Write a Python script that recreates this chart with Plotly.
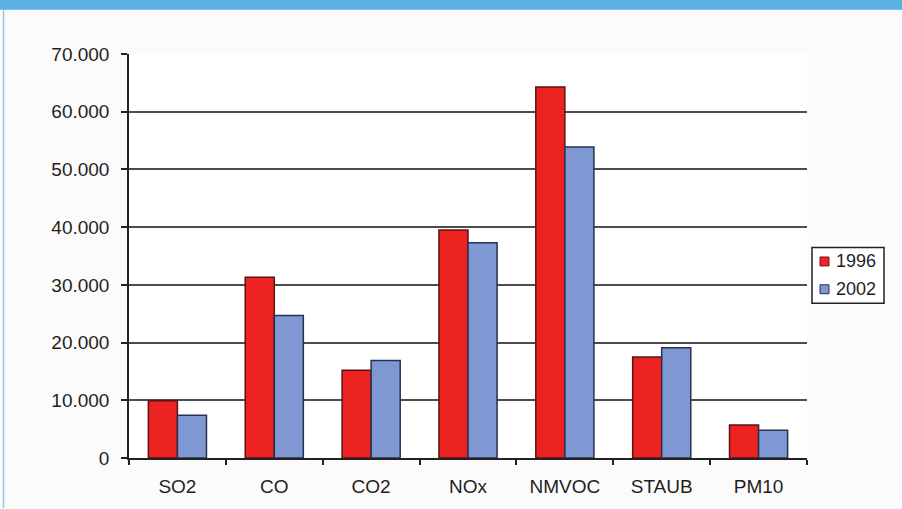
import plotly.graph_objects as go

# Emissions by pollutant, two survey years
categories = ["SO2", "CO", "CO2", "NOx", "NMVOC", "STAUB", "PM10"]
values_1996 = [9900, 31300, 15200, 39500, 64300, 17500, 5700]
values_2002 = [7400, 24700, 16900, 37300, 53900, 19100, 4800]
y_ticks = [0, 10000, 20000, 30000, 40000, 50000, 60000, 70000]
series_names = ["1996", "2002"]

FONT = "Liberation Sans, Arial, sans-serif"
TEXT = "#1f1f1f"
RED, RED_EDGE = "#ec2320", "#5a1414"
BLUE, BLUE_EDGE = "#7f97d3", "#26304f"

W, H = 902, 509
L, R, T, B = 129, 95, 54, 48
PW, PH = W - L - R, H - T - B


def px(x):
    """pixel column -> paper x"""
    return (x - L) / PW


def py(y):
    """pixel row (from top) -> paper y"""
    return (H - B - y) / PH


fig = go.Figure()
fig.add_trace(go.Bar(
    name=series_names[0], x=categories, y=values_1996,
    marker=dict(color=RED, line=dict(color=RED_EDGE, width=1.5)),
))
fig.add_trace(go.Bar(
    name=series_names[1], x=categories, y=values_2002,
    marker=dict(color=BLUE, line=dict(color=BLUE_EDGE, width=1.5)),
))

shapes = [
    # top banner strip
    dict(type="rect", xref="paper", yref="paper",
         x0=px(0), x1=px(W), y0=py(9.5), y1=py(-2),
         fillcolor="#5aafe3", line=dict(width=0), layer="above"),
    # left frame line
    dict(type="line", xref="paper", yref="paper",
         x0=px(3.5), x1=px(3.5), y0=py(H + 2), y1=py(9),
         line=dict(color="#8cc8ee", width=1.5)),
    # legend frame
    dict(type="rect", xref="paper", yref="paper",
         x0=px(812), x1=px(884), y0=py(305), y1=py(249),
         fillcolor="#ffffff", line=dict(color="#222222", width=1.5)),
]
annotations = []
legend_rows = [(263, RED, "#7a1010"), (291, BLUE, "#26304f")]
for name, (yc, fill, edge) in zip(series_names, legend_rows):
    shapes.append(dict(type="rect", xref="paper", yref="paper",
                       x0=px(820), x1=px(829), y0=py(yc + 4.5), y1=py(yc - 4.5),
                       fillcolor=fill, line=dict(color=edge, width=1)))
    annotations.append(dict(xref="paper", yref="paper", x=px(834), y=py(yc),
                            xanchor="left", yanchor="middle", showarrow=False,
                            text=name, font=dict(family=FONT, size=18, color=TEXT)))

fig.update_layout(
    width=W, height=H,
    margin=dict(l=L, r=R, t=T, b=B),
    paper_bgcolor="#fbfbfb",
    plot_bgcolor="#ffffff",
    separators=",.",
    barmode="group",
    bargap=0.4,
    bargroupgap=0,
    font=dict(family=FONT, color=TEXT, size=19),
    showlegend=False,
    xaxis=dict(
        type="category",
        tickson="boundaries",
        ticks="outside", ticklen=5, tickwidth=1.5, tickcolor="#222222",
        showline=True, linecolor="#222222", linewidth=1.5,
        showgrid=False,
        ticklabelstandoff=10,
        tickfont=dict(family=FONT, size=19, color=TEXT),
    ),
    yaxis=dict(
        range=[0, 70000],
        tickvals=y_ticks,
        tickformat=",d",
        ticks="outside", ticklen=6, tickwidth=1.5, tickcolor="#222222",
        showline=True, linecolor="#222222", linewidth=1.5,
        showgrid=True, gridcolor="#4d4d4d", gridwidth=1.5,
        zeroline=False,
        ticklabelstandoff=8,
        tickfont=dict(family=FONT, size=19, color=TEXT),
    ),
    shapes=shapes,
    annotations=annotations,
)

fig.write_html("out.html")
